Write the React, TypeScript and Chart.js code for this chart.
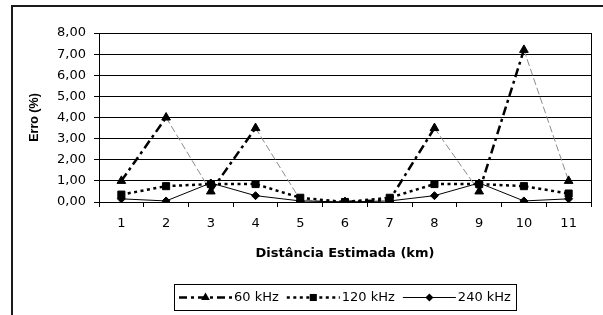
import React, { useEffect, useRef } from 'react';
import { Chart, registerables } from 'chart.js';

Chart.register(...registerables);

// ---- data ----
const categories = ['1', '2', '3', '4', '5', '6', '7', '8', '9', '10', '11'];
const series60 = [1.0, 4.0, 0.5, 3.5, 0.1, 0.0, 0.1, 3.5, 0.5, 7.2, 1.0];
const series120 = [0.35, 0.75, 0.85, 0.85, 0.2, 0.0, 0.2, 0.85, 0.85, 0.75, 0.4];
const series240 = [0.15, 0.05, 0.9, 0.3, 0.05, 0.0, 0.05, 0.3, 0.9, 0.05, 0.15];
const seriesLabels = ['60 kHz', '120 kHz', '240 kHz'];
const yMin = 0;
const yMax = 8;
const yStep = 1;
const xTitle = 'Distância Estimada (km)';
const yTitle = 'Erro (%)';

const FONT = '"DejaVu Sans", Verdana, sans-serif';
const FONT_NARROW = '"Liberation Sans", Arial, sans-serif';

function drawMarker(ctx: CanvasRenderingContext2D, kind: string, x: number, y: number, r: number) {
  ctx.beginPath();
  if (kind === 'triangle') {
    const w = r * Math.cos(Math.PI / 6);
    ctx.moveTo(x, y - r);
    ctx.lineTo(x + w, y + r / 2);
    ctx.lineTo(x - w, y + r / 2);
    ctx.closePath();
  } else if (kind === 'rect') {
    const s = r * Math.SQRT1_2;
    ctx.rect(x - s, y - s, 2 * s, 2 * s);
  } else {
    ctx.moveTo(x, y - r);
    ctx.lineTo(x + r, y);
    ctx.lineTo(x, y + r);
    ctx.lineTo(x - r, y);
    ctx.closePath();
  }
  ctx.fillStyle = '#000';
  ctx.fill();
}

const framePlugin = {
  id: 'frame',
  beforeDraw(chart: any) {
    const ctx = chart.ctx as CanvasRenderingContext2D;
    ctx.save();
    ctx.fillStyle = '#fff';
    ctx.fillRect(0, 0, chart.width, chart.height);
    ctx.strokeStyle = '#1a1a1a';
    ctx.lineWidth = 2;
    ctx.beginPath();
    ctx.moveTo(12, chart.height + 2);
    ctx.lineTo(12, 6);
    ctx.lineTo(chart.width + 2, 6);
    ctx.stroke();
    ctx.restore();
  },
  beforeDatasetsDraw(chart: any) {
    const ctx = chart.ctx as CanvasRenderingContext2D;
    const a = chart.chartArea;
    ctx.save();
    ctx.strokeStyle = '#000';
    ctx.lineWidth = 1;
    ctx.beginPath();
    const x = Math.round(a.right) + 0.5;
    ctx.moveTo(x, Math.round(a.top));
    ctx.lineTo(x, Math.round(a.bottom) + 1);
    ctx.stroke();
    ctx.restore();
  },
  afterDraw(chart: any) {
    const ctx = chart.ctx as CanvasRenderingContext2D;
    const a = chart.chartArea;
    ctx.save();
    ctx.font = '13px ' + FONT;
    const sampleLen = 53;
    const gapText = 2;
    const gapEntry = 8;
    const padX = 5;
    const widths = seriesLabels.map((l) => ctx.measureText(l).width);
    const total = padX * 2 + widths.reduce((s, w) => s + w, 0) + 3 * (sampleLen + gapText) + 2 * gapEntry;
    const cx = (a.left + a.right) / 2;
    const top = 284;
    const h = 26;
    let x = Math.round(cx - total / 2);
    ctx.strokeStyle = '#000';
    ctx.lineWidth = 1;
    ctx.strokeRect(x + 0.5, top + 0.5, Math.round(total), h);
    const midY = top + h / 2 + 0.5;
    const styles = [
      { dash: [8, 4, 3, 4], width: 2.5, marker: 'triangle', r: 5 },
      { dash: [3, 3.5], width: 2.5, marker: 'rect', r: 5 },
      { dash: [], width: 1, marker: 'rectRot', r: 4 },
    ];
    x += padX;
    seriesLabels.forEach((label, i) => {
      const st = styles[i];
      ctx.save();
      ctx.strokeStyle = '#000';
      ctx.lineWidth = st.width;
      ctx.setLineDash(st.dash);
      ctx.beginPath();
      ctx.moveTo(x, midY);
      ctx.lineTo(x + sampleLen, midY);
      ctx.stroke();
      ctx.restore();
      drawMarker(ctx, st.marker, x + sampleLen / 2, midY, st.r);
      ctx.fillStyle = '#000';
      ctx.textBaseline = 'middle';
      ctx.textAlign = 'left';
      ctx.fillText(label, x + sampleLen + gapText, midY);
      x += sampleLen + gapText + widths[i] + gapEntry;
    });
    ctx.restore();
  },
};

const falling = (c: any) => c.p1.parsed.y < c.p0.parsed.y;

export default function App() {
  const ref = useRef<HTMLCanvasElement | null>(null);

  useEffect(() => {
    document.body.style.margin = '0';
    const canvas = ref.current;
    if (!canvas) return;
    const chart = new Chart(canvas, {
      type: 'line',
      data: {
        labels: categories,
        datasets: [
          {
            label: seriesLabels[0],
            data: series60,
            borderColor: '#000',
            backgroundColor: '#000',
            borderWidth: 2.5,
            borderDash: [9, 4, 3, 4],
            pointStyle: 'triangle',
            pointRadius: 5,
            pointBackgroundColor: '#000',
            pointBorderColor: '#000',
            pointBorderWidth: 1,
            tension: 0,
            order: 3,
            segment: {
              borderColor: (c: any) => (falling(c) ? '#8c8c8c' : '#000'),
              borderWidth: (c: any) => (falling(c) ? 1 : 2.5),
              borderDash: (c: any) => (falling(c) ? [7, 3] : [9, 4, 3, 4]),
            },
          },
          {
            label: seriesLabels[1],
            data: series120,
            borderColor: '#000',
            backgroundColor: '#000',
            borderWidth: 2.5,
            borderDash: [3, 3.5],
            pointStyle: 'rect',
            pointRadius: 5,
            pointBackgroundColor: '#000',
            pointBorderColor: '#000',
            pointBorderWidth: 1,
            tension: 0,
            order: 2,
          },
          {
            label: seriesLabels[2],
            data: series240,
            borderColor: '#000',
            backgroundColor: '#000',
            borderWidth: 1,
            pointStyle: 'rectRot',
            pointRadius: 4,
            pointBackgroundColor: '#000',
            pointBorderColor: '#000',
            pointBorderWidth: 1,
            tension: 0,
            order: 1,
          },
        ],
      },
      options: {
        responsive: false,
        animation: false,
        devicePixelRatio: 1,
        layout: { padding: { left: 12, top: 33, right: 12, bottom: 0 } },
        plugins: {
          legend: { display: false },
          tooltip: { enabled: false },
        },
        scales: {
          x: {
            type: 'category',
            offset: true,
            grid: {
              offset: true,
              drawOnChartArea: false,
              drawTicks: true,
              tickLength: 5,
              color: '#000',
              lineWidth: 1,
            },
            border: { display: true, color: '#000', width: 1 },
            ticks: {
              color: '#000',
              padding: 9,
              maxRotation: 0,
              font: { family: FONT, size: 13 },
            },
            title: {
              display: true,
              text: xTitle,
              color: '#000',
              font: { family: FONT, size: 13, weight: 'bold' },
              padding: { top: 0, bottom: 54 },
            },
            afterFit: (s: any) => {
              s.height = 113;
            },
          },
          y: {
            min: yMin,
            max: yMax,
            grid: {
              color: '#000',
              lineWidth: 1,
              drawTicks: true,
              tickLength: 5,
            },
            border: { display: true, color: '#000', width: 1 },
            ticks: {
              stepSize: yStep,
              color: '#000',
              padding: 8,
              font: { family: FONT, size: 13 },
              callback: (v: any) => Number(v).toFixed(2).replace('.', ','),
            },
            title: {
              display: true,
              text: yTitle,
              color: '#000',
              font: { family: FONT_NARROW, size: 12.5, weight: 'bold' },
              padding: { top: 15, bottom: 0 },
            },
            afterFit: (s: any) => {
              s.width = 87;
            },
          },
        },
      },
      plugins: [framePlugin],
    });
    return () => chart.destroy();
  }, []);

  return (
    <div style={{ position: 'absolute', left: 0, top: 0, width: 603, height: 315 }}>
      <canvas ref={ref} width={603} height={315} />
    </div>
  );
}
